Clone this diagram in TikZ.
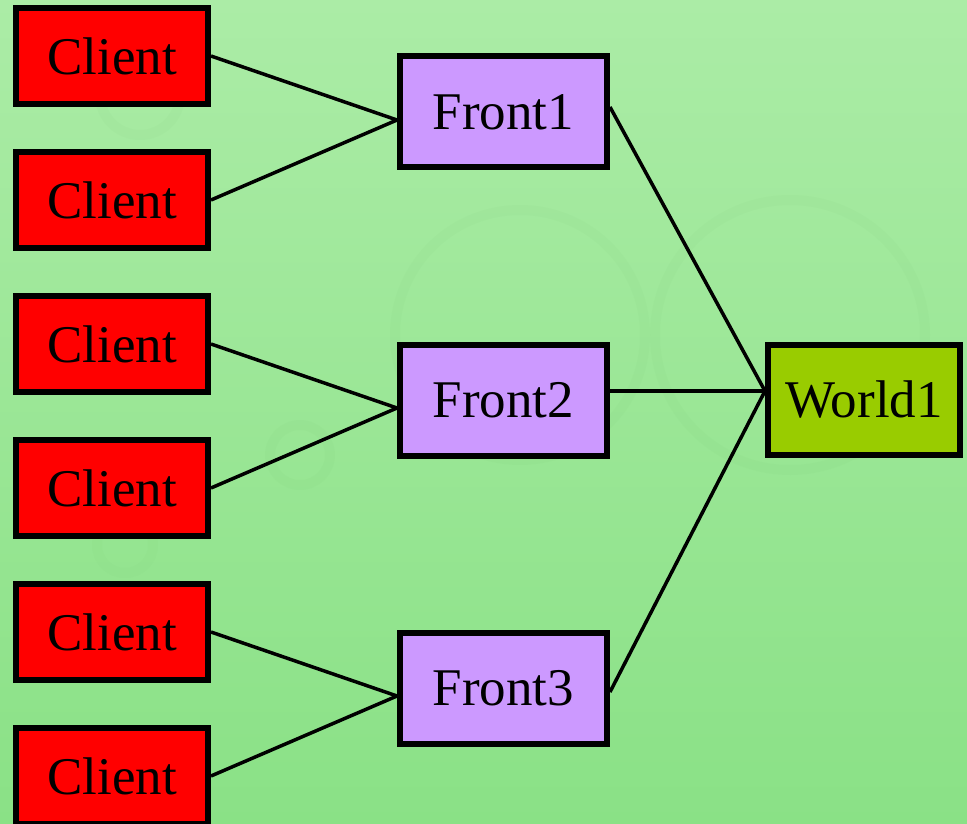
\documentclass[tikz,border=0pt]{standalone}
\usepackage{fontspec}
\setmainfont{Liberation Serif}
\definecolor{bgtop}{RGB}{171,236,166}
\definecolor{bgbot}{RGB}{138,225,134}
\definecolor{ring}{RGB}{110,190,105}
\definecolor{clientred}{RGB}{255,0,0}
\definecolor{frontlilac}{RGB}{204,153,255}
\definecolor{worldgreen}{RGB}{153,204,0}
\tikzset{
  box/.style={draw=black, line width=6pt, inner sep=0pt,
    font=\fontsize{53}{62}\selectfont, text=black},
  clientbox/.style={box, fill=clientred, minimum width=192pt, minimum height=96pt},
  frontbox/.style={box, fill=frontlilac, minimum width=207pt, minimum height=111pt},
  worldbox/.style={box, fill=worldgreen, minimum width=192pt, minimum height=110pt},
  link/.style={draw=black, line width=3.5pt},
  faintring/.style={draw=ring, line width=10pt, opacity=0.05}
}
\begin{document}
\begin{tikzpicture}[x=1pt, y=-1pt]
  % background
  \useasboundingbox (0,0) rectangle (967,824);
  \shade[top color=bgtop, bottom color=bgbot] (0,0) rectangle (967,824);
  \draw[faintring] (790,335) circle (135);
  \draw[faintring] (520,335) circle (125);
  \draw[faintring] (300,455) circle (30);
  \draw[faintring] (125,545) circle (28);
  \draw[faintring] (140,95) circle (40);

  % clients
  \node[clientbox] (c1) at (112,56)  {Client};
  \node[clientbox] (c2) at (112,200) {Client};
  \node[clientbox] (c3) at (112,344) {Client};
  \node[clientbox] (c4) at (112,488) {Client};
  \node[clientbox] (c5) at (112,632) {Client};
  \node[clientbox] (c6) at (112,776) {Client};

  % front ends
  \node[frontbox] (f1) at (503.5,112) {Front1};
  \node[frontbox] (f2) at (503.5,400) {Front2};
  \node[frontbox] (f3) at (503.5,688) {Front3};

  % world server
  \node[worldbox] (w1) at (864,400) {World1};

  % client links
  \draw[link] (c1.east) -- ([yshift=-8pt]f1.west);
  \draw[link] (c2.east) -- ([yshift=-8pt]f1.west);
  \draw[link] (c3.east) -- ([yshift=-8pt]f2.west);
  \draw[link] (c4.east) -- ([yshift=-8pt]f2.west);
  \draw[link] (c5.east) -- ([yshift=-8pt]f3.west);
  \draw[link] (c6.east) -- ([yshift=-8pt]f3.west);

  % front-end links to the world server
  \draw[link] ([yshift=5pt]f1.east) -- ([yshift=9pt]w1.west);
  \draw[link] ([yshift=9pt]f2.east) -- ([yshift=9pt]w1.west);
  \draw[link] ([yshift=-4pt]f3.east) -- ([yshift=9pt]w1.west);
\end{tikzpicture}
\end{document}
